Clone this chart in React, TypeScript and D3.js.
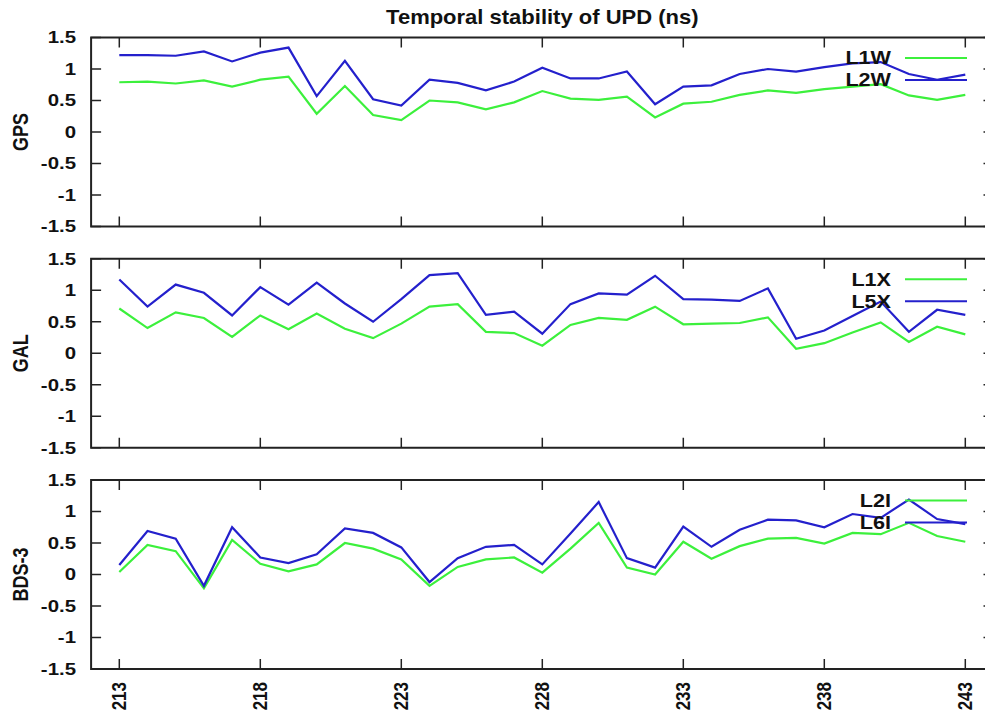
import * as d3 from 'd3';

// day of year (x axis)
const days = [213, 214, 215, 216, 217, 218, 219, 220, 221, 222, 223, 224, 225, 226, 227, 228,
  229, 230, 231, 232, 233, 234, 235, 236, 237, 238, 239, 240, 241, 242, 243];
const xTicks = [213, 218, 223, 228, 233, 238, 243];
const yTicks = [-1.5, -1, -0.5, 0, 0.5, 1, 1.5];

const gpsL1W = [0.79, 0.80, 0.77, 0.82, 0.72, 0.83, 0.88, 0.29, 0.73, 0.27, 0.19, 0.50, 0.47, 0.36, 0.47, 0.65,
  0.53, 0.51, 0.56, 0.23, 0.45, 0.48, 0.59, 0.66, 0.62, 0.68, 0.72, 0.76, 0.58, 0.51, 0.59];
const gpsL2W = [1.22, 1.22, 1.21, 1.28, 1.12, 1.26, 1.34, 0.57, 1.13, 0.52, 0.42, 0.83, 0.78, 0.66, 0.80, 1.02,
  0.85, 0.85, 0.96, 0.44, 0.72, 0.74, 0.92, 1.00, 0.96, 1.03, 1.09, 1.11, 0.92, 0.83, 0.91];
const galL1X = [0.71, 0.40, 0.65, 0.56, 0.26, 0.60, 0.38, 0.63, 0.39, 0.24, 0.47, 0.74, 0.78, 0.34, 0.32, 0.12,
  0.45, 0.56, 0.53, 0.74, 0.46, 0.47, 0.48, 0.57, 0.07, 0.16, 0.33, 0.49, 0.18, 0.42, 0.30];
const galL5X = [1.17, 0.74, 1.09, 0.96, 0.60, 1.05, 0.77, 1.12, 0.79, 0.50, 0.86, 1.24, 1.27, 0.61, 0.66, 0.31,
  0.78, 0.95, 0.93, 1.23, 0.86, 0.85, 0.83, 1.03, 0.23, 0.36, 0.59, 0.82, 0.34, 0.69, 0.61];
const bdsL2I = [0.04, 0.47, 0.37, -0.22, 0.55, 0.17, 0.05, 0.16, 0.50, 0.41, 0.24, -0.18, 0.12, 0.24, 0.27, 0.03,
  0.41, 0.82, 0.11, 0.00, 0.52, 0.25, 0.45, 0.57, 0.58, 0.49, 0.66, 0.64, 0.82, 0.61, 0.52];
const bdsL6I = [0.15, 0.69, 0.57, -0.18, 0.75, 0.27, 0.18, 0.32, 0.73, 0.66, 0.43, -0.12, 0.26, 0.44, 0.47, 0.16,
  0.65, 1.15, 0.26, 0.11, 0.76, 0.44, 0.71, 0.87, 0.86, 0.75, 0.96, 0.90, 1.19, 0.88, 0.80];

const panels = [
  { name: 'GPS', series: [{ label: 'L1W', values: gpsL1W }, { label: 'L2W', values: gpsL2W }] },
  { name: 'GAL', series: [{ label: 'L1X', values: galL1X }, { label: 'L5X', values: galL5X }] },
  { name: 'BDS-3', series: [{ label: 'L2I', values: bdsL2I }, { label: 'L6I', values: bdsL6I }] },
];

const colors = ['#3cf03c', '#2420cc'];
const FONT = '"Liberation Sans", Arial, sans-serif';
const SX = 1.2; // the original figure is a bit stretched horizontally

const W = 985;
const H = 717;
const panelTop0 = 37.5;
const panelStep = 221.25;
const panelH = 189;

const x = d3.scaleLinear().domain([213, 243]).range([119.3, 965.3]);
const xL = x(212);
const xR = x(244);

const Label = ({ x, y, anchor = 'middle', rotate = 0, size = 17, children }: any) => (
  <g transform={`translate(${x},${y}) scale(${SX},1) rotate(${rotate})`}>
    <text textAnchor={anchor} dominantBaseline="central" fontFamily={FONT} fontWeight="bold"
      fontSize={size} fill="#111">{children}</text>
  </g>
);

const Panel = ({ idx, panel }: any) => {
  const top = panelTop0 + idx * panelStep;
  const y = d3.scaleLinear().domain([-1.5, 1.5]).range([top + panelH, top]);
  const line = d3.line<number>().x((_, i) => x(days[i])).y(d => y(d));
  const last = idx === panels.length - 1;
  return (
    <g>
      {yTicks.map(t => (
        <g key={'y' + t}>
          <line x1={xL} x2={xL + 10} y1={y(t)} y2={y(t)} stroke="#222" strokeWidth={1.5} />
          <line x1={xR - 10} x2={xR} y1={y(t)} y2={y(t)} stroke="#222" strokeWidth={1.5} />
          <Label x={76} y={y(t)} anchor="end">{String(t)}</Label>
        </g>
      ))}
      {xTicks.map(t => (
        <g key={'x' + t}>
          <line x1={x(t)} x2={x(t)} y1={top} y2={top + 10} stroke="#222" strokeWidth={1.5} />
          <line x1={x(t)} x2={x(t)} y1={top + panelH - 10} y2={top + panelH} stroke="#222" strokeWidth={1.5} />
          {last && <Label x={x(t)} y={top + panelH + 13} anchor="end" rotate={-90}>{String(t)}</Label>}
        </g>
      ))}
      {panel.series.map((s: any, i: number) => (
        <path key={s.label} d={line(s.values) || ''} fill="none" stroke={colors[i]} strokeWidth={2.2}
          strokeLinejoin="miter" />
      ))}
      <rect x={xL} y={top} width={xR - xL} height={panelH} fill="none" stroke="#222" strokeWidth={2} />
      {panel.series.map((s: any, i: number) => {
        const ly = top + 20.5 + i * 22;
        return (
          <g key={'leg' + s.label}>
            <Label x={891} y={ly} anchor="end" size={18}>{s.label}</Label>
            <line x1={905} x2={967} y1={ly} y2={ly} stroke={colors[i]} strokeWidth={2.2} />
          </g>
        );
      })}
      <Label x={20} y={top + panelH / 2} rotate={-90} size={18}>{panel.name}</Label>
    </g>
  );
};

export default function App() {
  return (
    <svg width={W} height={H} style={{ position: 'absolute', left: 0, top: 0, background: '#fff' }}>
      <rect width={W} height={H} fill="#fff" />
      <g transform={`translate(${(xL + xR) / 2},17) scale(1.1,1)`}>
        <text textAnchor="middle" dominantBaseline="central" fontFamily={FONT} fontWeight="bold"
          fontSize={20} fill="#111">Temporal stability of UPD (ns)</text>
      </g>
      {panels.map((p, i) => <Panel key={p.name} idx={i} panel={p} />)}
    </svg>
  );
}
